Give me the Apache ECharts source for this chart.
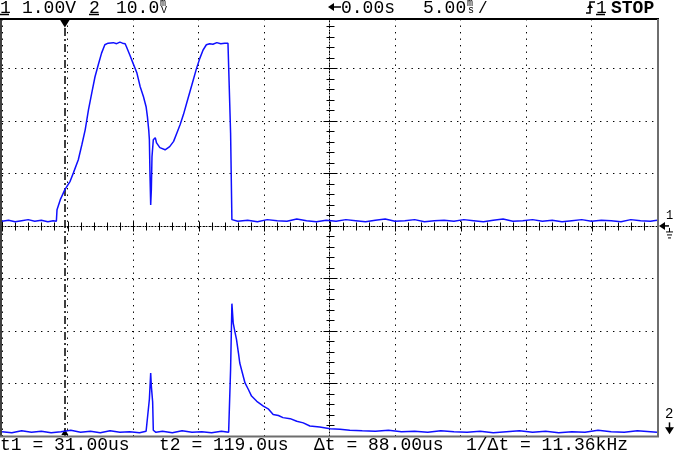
<!DOCTYPE html>
<html><head><meta charset="utf-8">
<script src="https://cdn.jsdelivr.net/npm/echarts@6/dist/echarts.min.js"></script>
<style>html,body{margin:0;padding:0;background:#fff}#c{width:674px;height:452px}</style>
</head><body><div id="c"></div>
<script>
// Channel 1 (1.00 V/div), time in µs relative to screen centre
const ch1Time = [-50,-49,-48,-47,-46,-45,-44,-43,-42.2,-41.7,-41.6,-41.1,-40.4,-39.6,-39.1,-38.35,-37.8,-37.3,-36.8,-36.3,-35.8,-35.3,-34.8,-34.3,-33.8,-33.5,-33.0,-32.5,-32.0,-31.6,-31.2,-31.0,-30.5,-30.0,-29.4,-28.9,-28.4,-28.0,-27.8,-27.6,-27.5,-27.4,-27.3,-27.2,-27.1,-26.9,-26.6,-26.4,-25.9,-25.1,-24.4,-23.8,-23.3,-22.8,-22.3,-21.8,-21.3,-20.8,-20.3,-19.8,-19.3,-18.8,-18.3,-17.8,-17.2,-16.6,-16.0,-15.5,-15.2,-15.1,-14.9,-14,-12.5,-11,-9.5,-8,-6.5,-5,-3.5,-2,-0.5,1,2.5,4,5.5,7,8.5,10,11.5,13,14.5,16,17.5,19,20.5,22,23.5,25,26.5,28,29.5,31,32.5,34,35.5,37,38.5,40,41.5,43,44.5,46,47.5,49,50];
const ch1Volt = [0.09,0.11,0.08,0.10,0.12,0.09,0.11,0.08,0.10,0.09,0.31,0.50,0.69,0.85,1.01,1.26,1.55,1.83,2.21,2.53,2.84,3.07,3.29,3.45,3.48,3.46,3.49,3.47,3.50,3.48,3.47,3.41,3.26,3.10,2.91,2.65,2.46,2.27,2.08,1.83,1.64,0.94,0.40,0.69,1.32,1.64,1.68,1.58,1.49,1.45,1.51,1.61,1.77,1.93,2.12,2.34,2.56,2.78,3.00,3.19,3.35,3.45,3.47,3.46,3.49,3.47,3.48,3.48,3.46,1.77,0.12,0.09,0.11,0.08,0.12,0.10,0.09,0.13,0.10,0.08,0.11,0.09,0.12,0.10,0.08,0.11,0.13,0.09,0.10,0.12,0.08,0.10,0.11,0.09,0.12,0.10,0.08,0.11,0.13,0.09,0.10,0.12,0.09,0.11,0.08,0.10,0.12,0.09,0.11,0.10,0.08,0.12,0.10,0.09,0.11];
// Channel 2 (10.0 mV/div)
const ch2Time = [-50,-48.5,-47,-45.5,-44,-42.5,-41,-39.5,-38,-36.5,-35,-33.5,-32,-30.5,-29,-28,-27.7,-27.5,-27.3,-27.2,-27.0,-26.9,-26.5,-25.5,-24,-22.5,-21,-19.5,-18,-16.5,-15.4,-15.1,-14.9,-14.7,-14.4,-14.2,-13.9,-13.7,-13.3,-12.9,-12.4,-11.9,-11.1,-10.1,-9.3,-8.6,-7.8,-7.1,-6.0,-5.0,-4.0,-3.0,-1.5,0.1,1.6,3.1,5,7,9,11,13,15,17,19,21,23,25,27,29,31,33,35,37,39,41,43,45,47,49,50];
const ch2MilliVolt = [0.3,0.1,0.5,0.2,0.4,0.1,0.3,0.6,0.2,0.4,0.1,0.5,0.2,0.3,0.1,0.4,0.2,6.5,11.5,9.0,6.0,0.6,0.2,0.4,0.1,0.5,0.2,0.3,0.1,0.4,0.2,12.2,24.7,21.0,19.1,17.9,15.3,13.4,11.5,9.6,8.4,7.1,6.1,5.2,4.6,3.6,3.4,3.0,2.8,2.3,2.0,1.4,1.2,0.9,0.8,0.6,0.5,0.4,0.6,0.3,0.4,0.2,0.5,0.3,0.2,0.4,0.1,0.3,0.5,0.2,0.4,0.1,0.3,0.2,0.6,0.3,0.2,0.5,0.3,0.2];

const ch1VoltsPerDiv = 1.0;
const ch2MilliVoltsPerDiv = 10.0;
const ch1OffsetDiv = 0;
const ch2OffsetDiv = -3.95;
const usPerDiv = 10;
const cursorT1 = -40.4;

const headerCh1 = '1.00V';
const headerCh2 = '10.0';
const headerDelay = '0.00s';
const headerTime = '5.00';
const headerState = 'STOP';
const footerLabels = ['t1 = 31.00us', 't2 = 119.0us', 'Δt = 88.00us', '1/Δt = 11.36kHz'];

const BLUE = '#0f0fff';
const FONT = '"Liberation Mono", "DejaVu Sans Mono", monospace';

const chart = echarts.init(document.getElementById('c'), null, {renderer: 'canvas'});

const dotted = {color: '#000', width: 1, type: [1.4, 5.1]};

const option = {
  animation: false,
  backgroundColor: '#fff',
  grid: {left: 2, right: 17, top: 19, bottom: 16, show: false},
  xAxis: {
    type: 'value', min: -5 * usPerDiv, max: 5 * usPerDiv, interval: usPerDiv,
    axisLine: {show: true, onZero: true, lineStyle: {color: '#000', width: 1, type: [1, 2]}},
    axisTick: {show: false}, axisLabel: {show: false},
    splitLine: {show: true, lineStyle: dotted}
  },
  yAxis: {
    type: 'value', min: -4, max: 3.94, interval: 1,
    axisLine: {show: true, onZero: true, lineStyle: {color: '#000', width: 1, type: [1, 2]}},
    axisTick: {show: false}, axisLabel: {show: false},
    splitLine: {show: true, lineStyle: dotted}
  },
  series: [
    {
      type: 'line', showSymbol: false, symbol: 'none', silent: true, z: 5,
      data: ch1Time.map((t, i) => [t, ch1Volt[i] / ch1VoltsPerDiv + ch1OffsetDiv]),
      lineStyle: {color: BLUE, width: 1.5},
      markLine: {
        silent: true, symbol: ['none', 'none'], label: {show: false},
        lineStyle: {color: '#000', width: 1.5, type: [8, 3, 2, 3]},
        data: [{xAxis: cursorT1}]
      },
      markPoint: {
        silent: true, label: {show: false},
        data: [
          {coord: [cursorT1, 3.94], symbol: 'triangle', symbolRotate: 180, symbolSize: [10, 8], symbolOffset: [0, 4.5], itemStyle: {color: '#000'}},
          {coord: [cursorT1, -4], symbol: 'triangle', symbolSize: [7, 6], symbolOffset: [0, -4], itemStyle: {color: '#000'}}
        ]
      }
    },
    {
      type: 'line', showSymbol: false, symbol: 'none', silent: true, z: 5,
      data: ch2Time.map((t, i) => [t, ch2MilliVolt[i] / ch2MilliVoltsPerDiv + ch2OffsetDiv]),
      lineStyle: {color: BLUE, width: 1.5}
    }
  ]
};
chart.setOption(option);

function txt(s, x, yMid, size, bold) {
  return {type: 'text', x: x, y: yMid, z: 100, silent: true,
    style: {text: s, font: (bold ? 'bold ' : '') + size + 'px ' + FONT, fill: '#000', align: 'left', verticalAlign: 'middle'}};
}
function ln(x1, y1, x2, y2, color, w, z) {
  return {type: 'line', z: z == null ? 100 : z, silent: true, shape: {x1, y1, x2, y2}, style: {stroke: color, lineWidth: w}};
}
function poly(points, color) {
  return {type: 'polygon', z: 100, silent: true, shape: {points}, style: {fill: color}};
}

const toPx = (x, y) => chart.convertToPixel({xAxisIndex: 0, yAxisIndex: 0}, [x, y]);
const gy1 = toPx(50, ch1OffsetDiv)[1];
const gy2 = toPx(50, ch2OffsetDiv)[1];
const origin = toPx(0, 0);
const oy = Math.round(origin[1]) + 0.5;
const ox = Math.round(origin[0]) + 0.5;
const HY = 8.5, FY = 445.5;

const elements = [];
// centre crosshair ticks (every 1/5 division)
for (let k = -25; k <= 25; k++) {
  const px = Math.round(toPx(k * usPerDiv / 5, 0)[0]) + 0.5;
  const len = (k % 5 === 0) ? 5 : 4;
  elements.push(ln(px, oy - len, px, oy + len, '#000', 1, 1));
}
for (let k = -20; k <= 19; k++) {
  const py = Math.round(toPx(0, k / 5)[1]) + 0.5;
  const len = (k % 5 === 0) ? 7 : 4;
  elements.push(ln(ox - len, py, ox + len, py, '#000', 1, 1));
}
elements.push(
  // frame
  ln(0, 19, 659, 19, '#000', 2),
  ln(1, 19, 1, 437, '#000', 1.5),
  ln(658, 19, 658, 437, '#6e6e6e', 2),
  ln(0, 436.5, 659, 436.5, '#6e6e6e', 2),
  // header
  txt('1', 0, HY, 18), ln(0, 14.5, 9, 14.5, '#000', 1.5),
  txt(headerCh1, 22, HY, 18),
  txt('2', 89, HY, 18), ln(89, 14.5, 99, 14.5, '#000', 1.5),
  txt(headerCh2, 116, HY, 18),
  txt('m', 160, 3.5, 10), txt('V', 161, 10, 10),
  ln(332, 7, 341, 7, '#000', 1.5), poly([[328, 7], [334, 3], [334, 11]], '#000'),
  txt(headerDelay, 341, HY, 18),
  txt(headerTime, 423, HY, 18),
  txt('m', 467, 3.5, 10), txt('s', 468, 10, 10), txt('/', 478, HY, 16),
  {type: 'polyline', z: 100, silent: true, shape: {points: [[586, 13], [590, 13], [590, 2], [595, 2]]}, style: {stroke: '#000', lineWidth: 1.5, fill: null}},
  poly([[587, 8], [593, 8], [590, 4]], '#000'),
  txt('1', 596, HY, 18), ln(596, 14.5, 605, 14.5, '#000', 1.5),
  txt(headerState, 611, HY, 18, true),
  // footer
  txt(footerLabels[0], 0, FY, 18),
  txt(footerLabels[1], 159, FY, 18),
  txt(footerLabels[2], 314, FY, 18),
  txt(footerLabels[3], 466, FY, 18),
  // channel 1 ground marker
  poly([[659, gy1], [665, gy1 - 4], [665, gy1 + 4]], '#000'), ln(664, gy1, 669, gy1, '#000', 1.5),
  txt('1', 666, gy1 - 10, 12),
  ln(669.5, gy1 + 2, 669.5, gy1 + 6, '#000', 1),
  ln(666, gy1 + 6, 673, gy1 + 6, '#000', 1),
  ln(667, gy1 + 9, 672, gy1 + 9, '#000', 1),
  ln(668, gy1 + 12, 671, gy1 + 12, '#000', 1),
  // channel 2 ground marker
  txt('2', 665, gy2 - 19, 14),
  ln(669.5, gy2 - 11, 669.5, gy2 - 2, '#000', 1.5),
  poly([[665, gy2 - 6], [674, gy2 - 6], [669.5, gy2 + 1]], '#000')
);
chart.setOption({graphic: {elements}});
</script>
</body></html>
